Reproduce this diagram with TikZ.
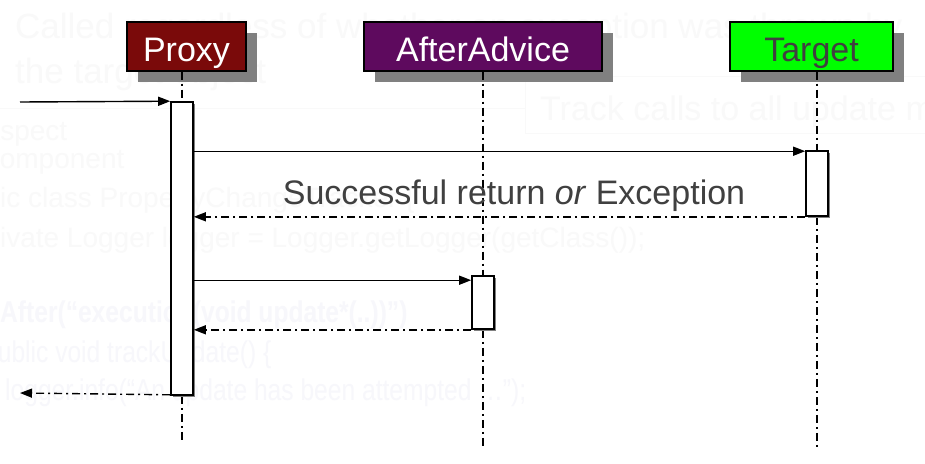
\documentclass[tikz,border=0pt]{standalone}
\usepackage{fontspec}
\setmainfont{Liberation Sans}
\newfontfamily\narrowfont[FakeStretch=0.82]{Liberation Sans}
\usetikzlibrary{arrows.meta,shadows}
\definecolor{proxyred}{RGB}{122,10,10}
\definecolor{advpurple}{RGB}{94,10,94}
\definecolor{tgtgreen}{RGB}{0,255,0}
\definecolor{shadowgray}{RGB}{128,128,128}
\definecolor{ghost}{RGB}{249,249,249}
\definecolor{ghostblue}{RGB}{247,247,251}
\definecolor{labelgray}{RGB}{64,64,64}
\tikzset{
  headbox/.style={draw=black, line width=1.3pt, minimum height=49pt, inner sep=0pt,
    text height=30pt, text depth=0pt,
    font=\fontsize{34}{34}\selectfont,
    drop shadow={shadow xshift=11pt, shadow yshift=-11pt, fill=shadowgray, opacity=1}},
  actbox/.style={draw=black, fill=white, line width=1.6pt, minimum width=22pt, inner sep=0pt,
    drop shadow={shadow xshift=2pt, shadow yshift=-2pt, fill=shadowgray, opacity=1}},
  dashdot/.style={dash pattern=on 8pt off 4pt on 2pt off 4pt},
  lifeline/.style={line width=1.5pt, dashdot},
  callarrow/.style={line width=1.4pt, -{Triangle[length=12pt,width=9pt]}},
  retarrow/.style={line width=1.4pt, dashdot, -{Triangle[length=12pt,width=9pt]}},
  ghosttext/.style={text=ghost, inner sep=0pt, anchor=base west}
}
\begin{document}
\begin{tikzpicture}[x=1pt,y=-1pt]
\useasboundingbox (0,0) rectangle (925,463);
\fill[white] (0,0) rectangle (925,463);
% faint background remnants
\begin{scope}
\clip (0,0) rectangle (925,463);
\node[ghosttext, font=\fontsize{35}{35}\selectfont] (g1) at (15,38) {Called regardless of whether an exception was thrown by};
\node[ghosttext, font=\fontsize{35}{35}\selectfont] (g2) at (15,83) {the target object};
\draw[ghost, line width=1pt] (0,108) -- (525,108);
\draw[ghost, line width=1pt] (525,76) rectangle (935,133);
\node[ghosttext, font=\fontsize{34}{34}\selectfont] (g3) at (540,120) {Track calls to all update methods};
\node[ghosttext, font=\fontsize{28}{28}\selectfont] (c1) at (-47,140) {@Aspect};
\node[ghosttext, font=\fontsize{28}{28}\selectfont] (c2) at (-49,168) {@Component};
\node[ghosttext, font=\fontsize{28}{28}\selectfont] (c3) at (-53,207) {public class PropertyChangeTracker \{};
\node[ghosttext, font=\fontsize{28}{28}\selectfont] (c4) at (-25,247) {private Logger logger = Logger.getLogger(getClass());};
\node[ghosttext, text=ghostblue, font=\narrowfont\bfseries\fontsize{30}{30}\selectfont] (c5) at (-24,322) {@After(“execution(void update*(..))”)};
\node[ghosttext, text=ghostblue, font=\narrowfont\fontsize{30}{30}\selectfont] (c6) at (-16,362) {public void trackUpdate() \{};
\node[ghosttext, text=ghostblue, font=\narrowfont\fontsize{30}{30}\selectfont] (c7) at (5,400) {logger.info(“An update has been attempted …”);};
\end{scope}
% heads
\node[headbox, fill=proxyred, text=white, minimum width=119pt] (proxy) at (186.5,46.5) {Proxy};
\node[headbox, fill=advpurple, text=white, minimum width=238pt] (advice) at (483,46.5) {AfterAdvice};
\node[headbox, fill=tgtgreen, text=labelgray, minimum width=163pt] (target) at (811.5,46.5) {Target};
% activations
\node[actbox, minimum height=293pt] (pact) at (182,248.5) {};
\node[actbox, minimum height=65pt] (tact) at (817,183.5) {};
\node[actbox, minimum height=53pt] (aact) at (483,302.5) {};
% lifelines
\coordinate (pend) at (182,440);
\coordinate (aend) at (483,448);
\coordinate (tend) at (817,448);
\draw[lifeline] (pact |- proxy.south) -- (pact.north);
\draw[lifeline] (pact.south) -- (pend);
\draw[lifeline] (aact |- advice.south) -- (aact.north);
\draw[lifeline] (aact.south) -- (aend);
\draw[lifeline] (tact |- target.south) -- (tact.north);
\draw[lifeline] (tact.south) -- (tend);
% redraw activations on top of lifelines
\node[actbox, minimum height=293pt] at (pact) {};
\node[actbox, minimum height=65pt] at (tact) {};
\node[actbox, minimum height=53pt] at (aact) {};
% messages
\coordinate (start) at (20,102);
\coordinate (finish) at (20,394);
\draw[callarrow] (start) -- (pact.north west);
\draw[callarrow] ([yshift=-1pt]pact.east |- tact.north) -- ([yshift=-1pt]tact.north west);
\draw[retarrow] (tact.south west) -- (pact.east |- tact.south);
\node[text=labelgray, font=\fontsize{34}{34}\selectfont, anchor=base, inner sep=0pt] (lbl) at (514,204) {Successful return \textit{or} Exception};
\draw[callarrow] ([yshift=-5pt]pact.east |- aact.north) -- ([yshift=-5pt]aact.north west);
\draw[retarrow] (aact.south west) -- (pact.east |- aact.south);
\draw[retarrow] ([yshift=1pt]pact.south west) -- ([yshift=1pt]finish);
\end{tikzpicture}
\end{document}
